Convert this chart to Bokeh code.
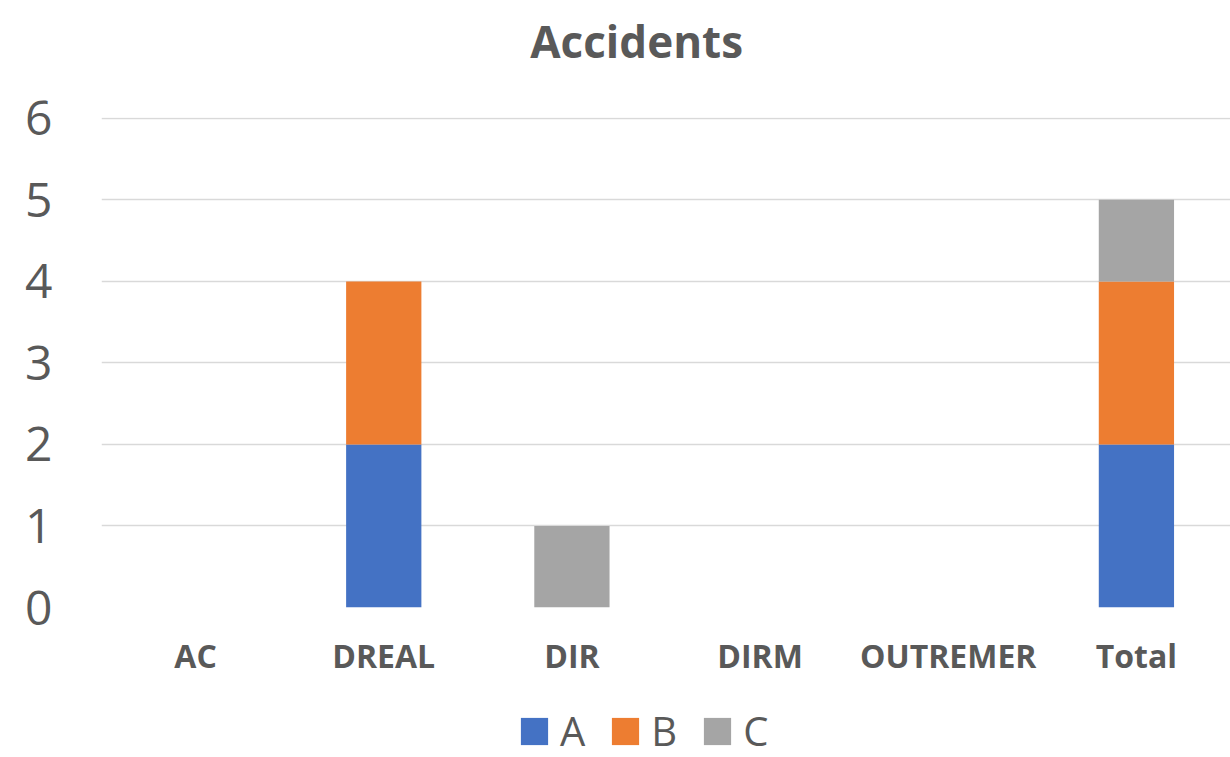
from bokeh.plotting import figure
from bokeh.layouts import column
from bokeh.models import FactorRange, Range1d, Legend, SingleIntervalTicker, Label
from bokeh.embed import file_html
from bokeh.resources import INLINE

categories = ["AC", "DREAL", "DIR", "DIRM", "OUTREMER", "Total"]
series_names = ["A", "B", "C"]
values_a = [0, 2, 0, 0, 0, 2]
values_b = [0, 2, 0, 0, 0, 2]
values_c = [0, 0, 1, 0, 0, 1]
colors = ["#4472C4", "#ED7D31", "#A5A5A5"]
title_text = "Accidents"

data = {"cat": categories, "A": values_a, "B": values_b, "C": values_c}


def strip(height, x_range=None, y_range=None):
    f = figure(width=1230, height=height,
               x_range=x_range if x_range is not None else Range1d(0, 1),
               y_range=y_range if y_range is not None else Range1d(0, 1),
               output_backend="svg", toolbar_location=None,
               min_border_left=0, min_border_right=0, min_border_top=0, min_border_bottom=0)
    f.axis.visible = False
    f.grid.visible = False
    f.outline_line_color = None
    return f


# title strip
tf = strip(80)
tf.add_layout(Label(x=0.474, y=0.5, text=title_text, text_align="center", text_baseline="middle",
                    text_font="Open Sans", text_font_size="44px", text_font_style="bold",
                    text_color="#595959"))

# main chart
p = figure(width=1230, height=601, x_range=FactorRange(*categories, range_padding=0),
           y_range=Range1d(0, 6.01), output_backend="svg", toolbar_location=None,
           min_border_left=101, min_border_right=0,
           min_border_top=37, min_border_bottom=74)

r = p.vbar_stack(series_names, x="cat", width=0.4, color=colors, source=data, line_width=0)

p.outline_line_color = None
p.xgrid.grid_line_color = None
p.ygrid.grid_line_color = "#D9D9D9"
p.ygrid.grid_line_width = 1.5
p.yaxis.ticker = SingleIntervalTicker(interval=1)
p.yaxis.axis_line_color = None
p.yaxis.major_tick_line_color = None
p.yaxis.minor_tick_line_color = None
p.yaxis.major_label_text_font = "Open Sans"
p.yaxis.major_label_text_font_size = "48px"
p.yaxis.major_label_text_color = "#595959"
p.yaxis.major_label_standoff = 43

p.xaxis.axis_line_color = None
p.xaxis.major_tick_line_color = None
p.xaxis.major_label_text_font = "Open Sans"
p.xaxis.major_label_text_font_size = "32px"
p.xaxis.major_label_text_font_style = "bold"
p.xaxis.major_label_text_color = "#595959"
p.xaxis.major_label_standoff = 20

# legend strip (same data drawn outside its visible range, used only for legend swatches)
lg = strip(76, x_range=p.x_range, y_range=Range1d(100, 101))
swatches = lg.vbar_stack(series_names, x="cat", width=0.4, color=colors, source=data, line_width=0)

legend = Legend(items=[(n, [g]) for n, g in zip(series_names, swatches)], orientation="horizontal",
                location=(416, -1), label_text_font="Open Sans", label_text_font_size="40px",
                label_text_color="#595959", glyph_width=34, glyph_height=34,
                border_line_color=None, background_fill_alpha=0, spacing=23, label_standoff=9,
                padding=0, margin=0)
lg.add_layout(legend, "center")

layout = column(tf, p, lg, spacing=0)
open("out.html", "w").write(file_html(layout, INLINE))
